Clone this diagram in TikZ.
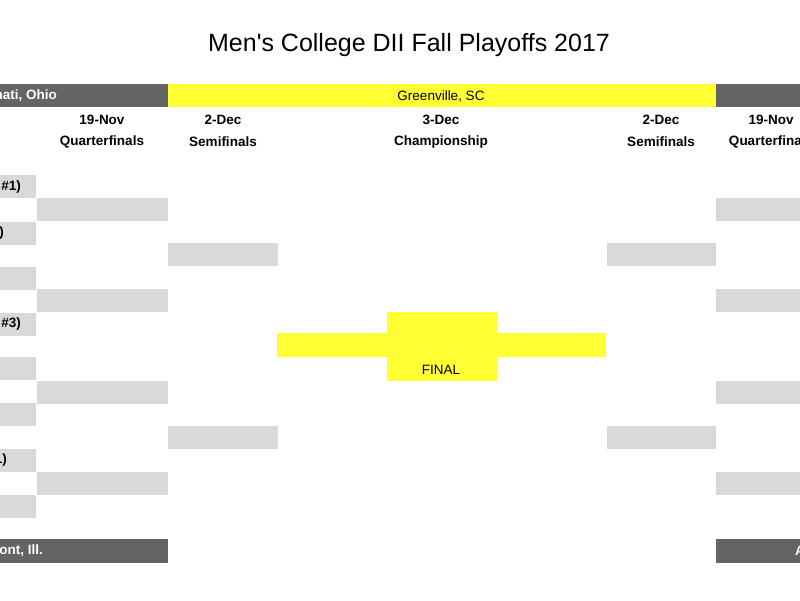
\documentclass[tikz,border=0pt]{standalone}
\usepackage{fontspec}
\setmainfont{Liberation Sans}
\definecolor{dg}{RGB}{100,100,100}
\definecolor{lg}{RGB}{217,217,217}
\definecolor{yl}{RGB}{255,255,51}
\begin{document}
\begin{tikzpicture}[x=1pt,y=-1pt,
  cell/.style={draw=none,inner sep=0pt,outer sep=0pt,anchor=north west},
  slot/.style={cell,fill=lg},
  bar/.style={cell,fill=dg},
  ybar/.style={cell,fill=yl},
  txt/.style={inner sep=0pt,font=\fontsize{13.5}{16}\selectfont},
  head/.style={txt,font=\fontsize{13.5}{16}\selectfont\bfseries},
  wtxt/.style={head,text=white}]
\useasboundingbox (0,0) rectangle (800,600);
\clip (0,0) rectangle (800,600);
\fill[white] (0,0) rectangle (800,600);
% title
\node[inner sep=0pt,font=\fontsize{25}{30}\selectfont] (title) at (409,45) {Men\textquotesingle s College DII Fall Playoffs 2017};
% top bars
\node[bar,minimum width=168pt,minimum height=23pt] (tl) at (0,84) {};
\node[ybar,minimum width=548pt,minimum height=23pt] (tm) at (168,84) {};
\node[bar,minimum width=84pt,minimum height=23pt] (tr) at (716,84) {};
\node[wtxt,anchor=east] (tlt) at (57,96) {nati, Ohio};
\node[txt] (tmt) at (441,96) {Greenville, SC};
% headers
\node[head] (h1a) at (102,120) {19-Nov};
\node[head] (h1b) at (102,142) {Quarterfinals};
\node[head] (h2a) at (223,120) {2-Dec};
\node[head] (h2b) at (223,142) {Semifinals};
\node[head] (h3a) at (441,120) {3-Dec};
\node[head] (h3b) at (441,142) {Championship};
\node[head] (h4a) at (661,120) {2-Dec};
\node[head] (h4b) at (661,142) {Semifinals};
\node[head] (h5a) at (771,120) {19-Nov};
\node[head] (h5b) at (771,142) {Quarterfinals};
% first round (left, clipped)
\foreach \y/\n in {175/1,222/2,267/3,313/4,357/5,403/6,449/7,495/8}
  \node[slot,minimum width=36pt,minimum height=23pt] (f\n) at (0,\y) {};
\node[head,anchor=east] (f1t) at (21,187) {\#1)};
\node[head,anchor=east] (f2t) at (4,233) {)};
\node[head,anchor=east] (f4t) at (21,324) {\#3)};
\node[head,anchor=east] (f7t) at (7,460) {1)};
% quarterfinals
\foreach \y/\n in {198/1,289/2,381/3,472/4}{
  \node[slot,minimum width=131pt,minimum height=23pt] (ql\n) at (37,\y) {};
  \node[slot,minimum width=84pt,minimum height=23pt] (qr\n) at (716,\y) {};
}
% semifinals
\foreach \y/\n in {243/1,426/2}{
  \node[slot,minimum width=110pt,minimum height=23pt] (sl\n) at (168,\y) {};
  \node[slot,minimum width=109pt,minimum height=23pt] (sr\n) at (607,\y) {};
}
% final
\node[ybar,minimum width=329pt,minimum height=24pt] (fbar) at (277,333) {};
\node[ybar,minimum width=110pt,minimum height=69pt] (fbox) at (387,312) {};
\node[txt] (fint) at (441,370) {FINAL};
% bottom bars
\node[bar,minimum width=168pt,minimum height=24pt] (bl) at (0,539) {};
\node[bar,minimum width=84pt,minimum height=24pt] (br) at (716,539) {};
\node[wtxt,anchor=east] (blt) at (43,551) {ont, Ill.};
\node[wtxt,anchor=west] (brt) at (795,551) {A};
\end{tikzpicture}
\end{document}
